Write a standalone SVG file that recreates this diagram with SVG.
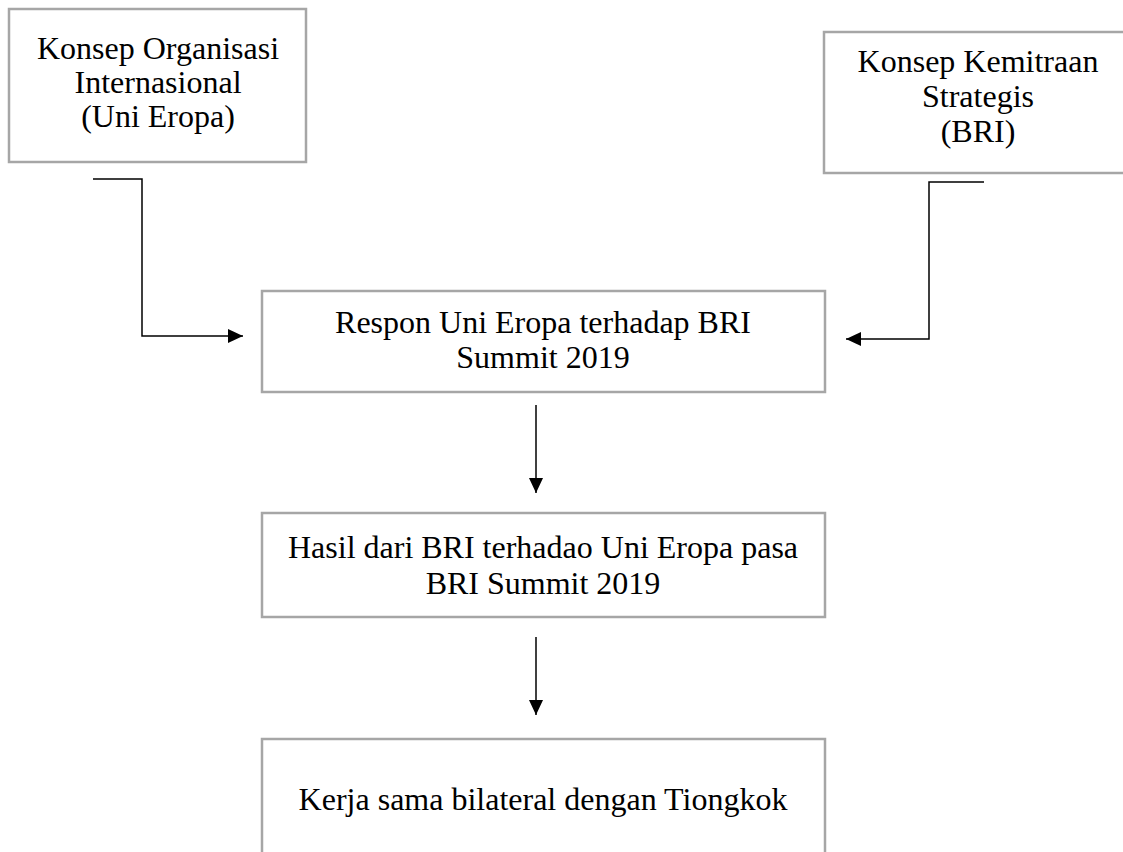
<svg xmlns="http://www.w3.org/2000/svg" width="1123" height="852" viewBox="0 0 1123 852">
<style>
.box{fill:#fff;stroke:#a6a6a6;stroke-width:2.5}
.t{font-family:"Liberation Serif","Times New Roman",serif;font-size:32px;fill:#000;text-anchor:middle}
.c{fill:none;stroke:#000;stroke-width:1.5}
</style>
<defs>
<marker id="ah" markerWidth="16" markerHeight="14" refX="15" refY="7" orient="auto" markerUnits="userSpaceOnUse">
<path d="M0,0 L15,7 L0,14 Z" fill="#000"/>
</marker>
</defs>
<rect width="1123" height="852" fill="#fff"/>
<g id="n1">
<rect class="box" x="9" y="9" width="297" height="153"/>
<text class="t" x="158" y="59">Konsep Organisasi</text>
<text class="t" x="158" y="93">Internasional</text>
<text class="t" x="158" y="127">(Uni Eropa)</text>
</g>
<g id="n2">
<rect class="box" x="824" y="32" width="310" height="141"/>
<text class="t" x="978" y="72">Konsep Kemitraan</text>
<text class="t" x="978" y="107">Strategis</text>
<text class="t" x="978" y="142">(BRI)</text>
</g>
<g id="n3">
<rect class="box" x="262" y="291" width="563" height="101"/>
<text class="t" x="543" y="333">Respon Uni Eropa terhadap BRI</text>
<text class="t" x="543" y="368">Summit 2019</text>
</g>
<g id="n4">
<rect class="box" x="262" y="513" width="563" height="104"/>
<text class="t" x="543" y="558">Hasil dari BRI terhadao Uni Eropa pasa</text>
<text class="t" x="543" y="594">BRI Summit 2019</text>
</g>
<g id="n5">
<rect class="box" x="262" y="739" width="563" height="140"/>
<text class="t" x="543" y="810">Kerja sama bilateral dengan Tiongkok</text>
</g>
<g id="connectors">
<polyline class="c" points="93,179 142,179 142,336 243,336" marker-end="url(#ah)"/>
<polyline class="c" points="984,182 929,182 929,339 846,339" marker-end="url(#ah)"/>
<line class="c" x1="536" y1="405" x2="536" y2="493" marker-end="url(#ah)"/>
<line class="c" x1="536" y1="637" x2="536" y2="715" marker-end="url(#ah)"/>
</g>
</svg>
